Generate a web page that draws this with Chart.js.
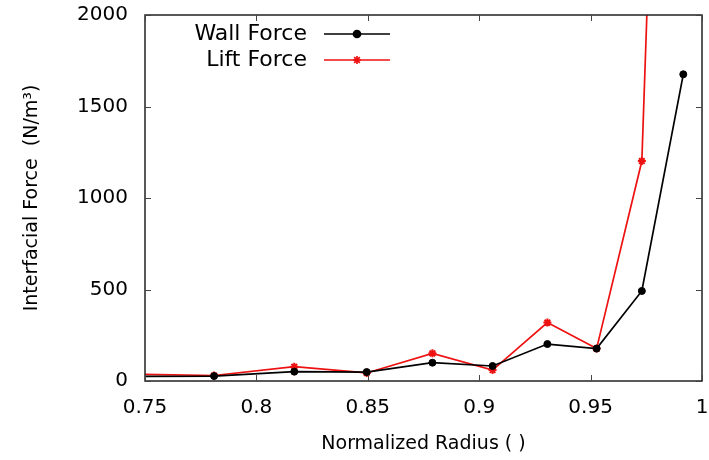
<!DOCTYPE html>
<html>
<head>
<meta charset="utf-8">
<script src="https://cdn.jsdelivr.net/npm/chart.js@4.4.1/dist/chart.umd.min.js"></script>
<style>
  html, body { margin: 0; padding: 0; background: #fff; }
  #wrap { width: 709px; height: 460px; }
</style>
</head>
<body>
<div id="wrap"><canvas id="forceChart" width="709" height="460"></canvas></div>
<script>
// radius values (normalized) and force values
const radius = [0.74, 0.781, 0.817, 0.8495, 0.879, 0.906, 0.9306, 0.9527, 0.973, 0.9916];
const wallForce = [25, 27, 51, 49, 100, 82, 202, 177, 492, 1676];
const liftForce = [38, 30, 78, 44, 151, 60, 319, 177, 1202, 7800];
const xTicks = [0.75, 0.8, 0.85, 0.9, 0.95, 1];
const yTicks = [0, 500, 1000, 1500, 2000];

const toPoints = (ys) => ys.map((y, i) => ({ x: radius[i], y: y }));
const FONT = 'DejaVu Sans, sans-serif';

// gnuplot style: box border and inward ticks on all four sides
const frame = {
  id: 'frame',
  afterDatasetsDraw(chart) {
    const { ctx, chartArea: a, scales: { x, y } } = chart;
    ctx.save();
    ctx.strokeStyle = '#222';
    ctx.lineWidth = 1.5;
    ctx.strokeRect(a.left, a.top, a.right - a.left, a.bottom - a.top);
    ctx.lineWidth = 1;
    ctx.strokeStyle = '#444';
    ctx.beginPath();
    xTicks.forEach(v => {
      const px = Math.round(x.getPixelForValue(v)) + 0.5;
      ctx.moveTo(px, a.bottom); ctx.lineTo(px, a.bottom - 6);
      ctx.moveTo(px, a.top); ctx.lineTo(px, a.top + 6);
    });
    yTicks.forEach(v => {
      const py = Math.round(y.getPixelForValue(v)) + 0.5;
      ctx.moveTo(a.left, py); ctx.lineTo(a.left + 6, py);
      ctx.moveTo(a.right, py); ctx.lineTo(a.right - 6, py);
    });
    ctx.stroke();
    ctx.restore();
  }
};

// legend: text right-aligned, sample line with marker to the right
const keyBox = {
  id: 'keyBox',
  afterDraw(chart) {
    const { ctx } = chart;
    ctx.save();
    ctx.font = '22px ' + FONT;
    ctx.textAlign = 'right';
    ctx.textBaseline = 'middle';
    chart.data.datasets.forEach((ds, i) => {
      const yy = 34 + i * 26;
      ctx.fillStyle = '#000';
      ctx.fillText(ds.label, 307, yy);
      ctx.strokeStyle = ds.borderColor;
      ctx.lineWidth = ds.borderWidth;
      ctx.beginPath();
      ctx.moveTo(324, yy); ctx.lineTo(390, yy);
      ctx.stroke();
      Chart.helpers.drawPoint(ctx, {
        pointStyle: ds.pointStyle, radius: ds.pointRadius,
        borderWidth: ds.pointBorderWidth || 1, rotation: 0
      }, 357, yy);
    });
    ctx.restore();
  }
};

new Chart(document.getElementById('forceChart'), {
  type: 'scatter',
  data: {
    datasets: [{
      label: 'Wall Force',
      data: toPoints(wallForce),
      showLine: true,
      borderColor: '#000',
      backgroundColor: '#000',
      borderWidth: 1.7,
      pointStyle: 'circle',
      pointRadius: 3.5,
      pointBorderWidth: 1
    }, {
      label: 'Lift Force',
      data: toPoints(liftForce),
      showLine: true,
      borderColor: '#ee1111',
      backgroundColor: '#ee1111',
      borderWidth: 1.7,
      pointStyle: 'star',
      pointRadius: 4,
      pointBorderWidth: 2
    }]
  },
  options: {
    responsive: false,
    animation: false,
    layout: { padding: { top: 15, right: 7, left: 0, bottom: 0 } },
    plugins: { legend: { display: false }, tooltip: { enabled: false } },
    scales: {
      x: {
        type: 'linear',
        min: 0.75, max: 1,
        afterFit: (s) => { s.height = 79; s.paddingLeft = 0; s.paddingRight = 0; },
        afterBuildTicks: (s) => { s.ticks = xTicks.map(v => ({ value: v })); },
        grid: { display: false, drawTicks: false },
        border: { display: false },
        ticks: {
          padding: 15,
          color: '#000',
          font: { family: FONT, size: 20 },
          callback: (v) => String(v)
        },
        title: {
          display: true,
          text: 'Normalized Radius ( )',
          color: '#000',
          font: { family: FONT, size: 19 },
          padding: { top: 0, bottom: 5 }
        }
      },
      y: {
        min: 0, max: 2000,
        afterFit: (s) => { s.width = 145; s.paddingTop = 0; s.paddingBottom = 0; },
        afterBuildTicks: (s) => { s.ticks = yTicks.map(v => ({ value: v })); },
        grid: { display: false, drawTicks: false },
        border: { display: false },
        ticks: {
          padding: 17,
          color: '#000',
          font: { family: FONT, size: 20 },
          callback: (v) => String(v)
        },
        title: {
          display: true,
          text: 'Interfacial Force  (N/m³)',
          color: '#000',
          font: { family: FONT, size: 19 },
          padding: { top: 21, bottom: 0 }
        }
      }
    }
  },
  plugins: [frame, keyBox]
});
</script>
</body>
</html>
